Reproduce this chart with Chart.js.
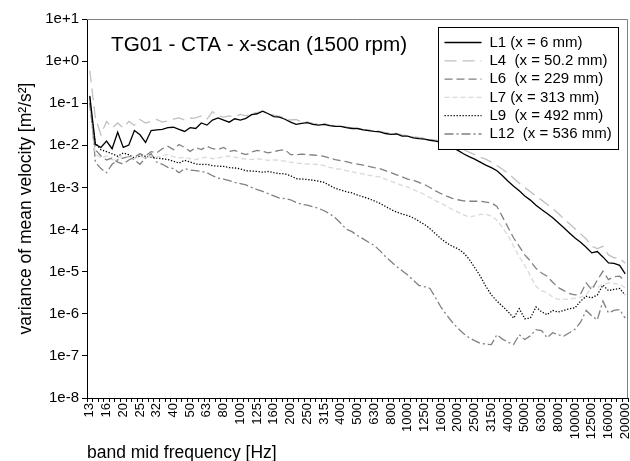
<!DOCTYPE html>
<html>
<head>
<meta charset="utf-8">
<script src="https://cdn.jsdelivr.net/npm/chart.js@4/dist/chart.umd.min.js"></script>
<style>
  html, body { margin: 0; padding: 0; background: #fff; }
</style>
</head>
<body>
<canvas id="c" width="630" height="461"></canvas>
<script>
// ============================================================
// TG01 - CTA - x-scan: variance of mean velocity per band
// ============================================================

// labelled band mid frequencies; two unlabelled sub-bands sit between each pair
const bandLabels = ["13","16","20","25","32","40","50","63","80","100","125","160","200","250",
  "315","400","500","630","800","1000","1250","1600","2000","2500","3150","4000","5000",
  "6300","8000","10000","12500","16000","20000"];
const subBands = 3;

const yTickValues = [1e-8, 1e-7, 1e-6, 1e-5, 1e-4, 1e-3, 1e-2, 1e-1, 1e0, 1e1];
const yTickLabels = ["1e-8","1e-7","1e-6","1e-5","1e-4","1e-3","1e-2","1e-1","1e+0","1e+1"];

const L1 = [1.5e-1,1.05e-2,8.9e-3,1.26e-2,8.3e-3,2.04e-2,8.9e-3,1.02e-2,2.24e-2,1.78e-2,
  1.17e-2,2.24e-2,2.34e-2,2.4e-2,2.63e-2,2.69e-2,2.4e-2,2.14e-2,2.63e-2,2.51e-2,
  3.39e-2,3.02e-2,3.98e-2,4.47e-2,3.98e-2,3.55e-2,4.27e-2,3.98e-2,4.37e-2,5.37e-2,
  5.62e-2,6.46e-2,5.62e-2,4.79e-2,4.68e-2,4.17e-2,3.55e-2,3.16e-2,3.31e-2,3.47e-2,
  3.16e-2,3.02e-2,3.16e-2,2.95e-2,2.82e-2,2.82e-2,2.63e-2,2.51e-2,2.51e-2,2.34e-2,
  2.24e-2,2.14e-2,2.09e-2,1.91e-2,1.82e-2,1.86e-2,1.66e-2,1.66e-2,1.51e-2,1.45e-2,
  1.41e-2,1.32e-2,1.26e-2,1.17e-2,1.05e-2,8.9e-3,7.6e-3,6.3e-3,5.4e-3,4.7e-3,
  4.0e-3,3.4e-3,2.95e-3,2.5e-3,1.9e-3,1.41e-3,1.07e-3,8.3e-4,6.3e-4,5.0e-4,
  3.8e-4,3.0e-4,2.4e-4,1.9e-4,1.45e-4,1.1e-4,8.3e-5,6.3e-5,5.0e-5,3.8e-5,
  2.8e-5,3.0e-5,2.24e-5,1.62e-5,1.58e-5,1.41e-5,8.9e-6];

const L4 = [6.0e-1,4.5e-2,1.78e-2,3.7e-2,2.6e-2,3.4e-2,2.6e-2,3.7e-2,3.0e-2,4.1e-2,
  3.4e-2,3.7e-2,4.1e-2,3.55e-2,3.8e-2,4.2e-2,4.5e-2,4.0e-2,4.4e-2,4.5e-2,
  5.0e-2,4.2e-2,6.3e-2,5.0e-2,4.7e-2,5.0e-2,4.8e-2,5.4e-2,5.0e-2,5.75e-2,
  6.0e-2,6.5e-2,5.6e-2,5.2e-2,4.9e-2,4.4e-2,4.0e-2,4.1e-2,3.55e-2,3.6e-2,
  3.3e-2,3.16e-2,3.3e-2,3.0e-2,2.95e-2,2.8e-2,2.75e-2,2.6e-2,2.5e-2,2.4e-2,
  2.34e-2,2.24e-2,2.14e-2,2.0e-2,1.95e-2,1.9e-2,1.78e-2,1.7e-2,1.58e-2,1.55e-2,
  1.48e-2,1.38e-2,1.32e-2,1.26e-2,1.15e-2,1.02e-2,9.1e-3,7.9e-3,6.9e-3,6.0e-3,
  5.25e-3,4.7e-3,4.0e-3,3.3e-3,2.7e-3,2.14e-3,1.66e-3,1.26e-3,1.0e-3,7.9e-4,
  6.3e-4,5.0e-4,4.0e-4,3.16e-4,2.4e-4,1.82e-4,1.38e-4,1.05e-4,7.9e-5,6.0e-5,
  4.0e-5,3.55e-5,4.0e-5,2.5e-5,2.14e-5,2.1e-5,1.58e-5];

const L6 = [1.0e-1,7.9e-3,5.6e-3,4.5e-3,5.0e-3,4.0e-3,3.55e-3,4.5e-3,5.25e-3,6.3e-3,
  5.6e-3,7.1e-3,6.6e-3,8.3e-3,9.5e-3,7.9e-3,1.05e-2,8.9e-3,7.2e-3,8.9e-3,
  7.9e-3,9.5e-3,8.3e-3,7.9e-3,8.9e-3,7.2e-3,7.6e-3,6.6e-3,6.0e-3,6.9e-3,
  7.6e-3,7.2e-3,6.6e-3,7.1e-3,7.6e-3,7.9e-3,6.0e-3,6.0e-3,6.2e-3,6.0e-3,
  5.9e-3,5.75e-3,5.5e-3,5.0e-3,4.6e-3,4.3e-3,4.1e-3,3.8e-3,3.6e-3,3.4e-3,
  3.16e-3,2.95e-3,2.8e-3,2.5e-3,2.24e-3,2.0e-3,1.78e-3,1.58e-3,1.48e-3,1.32e-3,
  1.17e-3,1.0e-3,8.3e-4,7.1e-4,6.2e-4,5.5e-4,5.1e-4,4.8e-4,4.7e-4,4.7e-4,
  4.7e-4,4.5e-4,4.3e-4,3.55e-4,2.0e-4,1.12e-4,6.3e-5,4.0e-5,2.5e-5,1.78e-5,
  1.2e-5,9.3e-6,7.8e-6,5.6e-6,4.2e-6,3.55e-6,3.0e-6,2.8e-6,2.95e-6,5.4e-6,
  3.7e-6,6.3e-6,1.02e-5,6.5e-6,7.6e-6,7.8e-6,5.9e-6];

const L7 = [7.9e-2,6.3e-3,5.0e-3,5.6e-3,4.5e-3,5.0e-3,5.6e-3,5.25e-3,4.8e-3,5.5e-3,
  5.0e-3,5.6e-3,5.25e-3,5.75e-3,6.0e-3,5.4e-3,5.0e-3,5.25e-3,4.8e-3,4.6e-3,
  5.0e-3,5.25e-3,4.8e-3,5.0e-3,5.4e-3,5.5e-3,5.25e-3,4.9e-3,4.7e-3,4.6e-3,
  4.8e-3,4.6e-3,4.4e-3,4.5e-3,4.4e-3,4.2e-3,4.0e-3,3.8e-3,3.7e-3,3.6e-3,
  3.55e-3,3.5e-3,3.3e-3,3.0e-3,2.8e-3,2.7e-3,2.5e-3,2.34e-3,2.2e-3,2.1e-3,
  1.95e-3,1.86e-3,1.78e-3,1.58e-3,1.41e-3,1.26e-3,1.12e-3,1.02e-3,8.9e-4,7.8e-4,
  6.8e-4,5.75e-4,4.8e-4,4.2e-4,3.55e-4,3.0e-4,2.6e-4,2.24e-4,2.0e-4,2.1e-4,
  2.3e-4,2.3e-4,2.1e-4,1.66e-4,1.12e-4,7.1e-5,4.0e-5,2.24e-5,1.41e-5,7.9e-6,
  4.5e-6,3.55e-6,3.16e-6,2.5e-6,2.2e-6,2.2e-6,2.24e-6,2.34e-6,2.5e-6,2.8e-6,
  4.4e-6,4.2e-6,5.0e-6,5.4e-6,5.25e-6,5.0e-6,4.1e-6];

const L9 = [1.0e-1,1.12e-2,7.9e-3,7.1e-3,6.3e-3,5.5e-3,6.6e-3,6.0e-3,5.0e-3,5.6e-3,
  5.5e-3,5.25e-3,5.0e-3,4.8e-3,4.6e-3,4.2e-3,3.8e-3,4.4e-3,4.0e-3,3.6e-3,
  3.5e-3,3.55e-3,3.3e-3,3.2e-3,3.16e-3,2.95e-3,2.9e-3,2.75e-3,2.5e-3,2.45e-3,
  2.4e-3,2.3e-3,2.4e-3,2.24e-3,2.14e-3,2.1e-3,1.9e-3,1.62e-3,1.58e-3,1.55e-3,
  1.48e-3,1.41e-3,1.32e-3,1.12e-3,9.5e-4,8.7e-4,7.9e-4,7.4e-4,6.6e-4,6.0e-4,
  5.4e-4,4.8e-4,4.2e-4,3.55e-4,3.0e-4,2.6e-4,2.34e-4,2.14e-4,1.9e-4,1.58e-4,
  1.32e-4,1.05e-4,7.9e-5,6.0e-5,4.8e-5,4.0e-5,3.5e-5,2.8e-5,2.0e-5,1.26e-5,
  7.9e-6,4.5e-6,2.8e-6,2.0e-6,1.51e-6,1.12e-6,7.9e-7,1.32e-6,7.6e-7,7.9e-7,
  1.45e-6,1.12e-6,9.5e-7,1.2e-6,1.1e-6,1.2e-6,1.32e-6,1.38e-6,2.0e-6,2.6e-6,
  2.4e-6,2.8e-6,4.8e-6,3.55e-6,3.8e-6,4.0e-6,2.8e-6];

const L12 = [1.41e-1,4.0e-3,2.8e-3,2.24e-3,3.55e-3,4.5e-3,5.0e-3,5.5e-3,4.5e-3,3.55e-3,
  5.0e-3,6.3e-3,4.0e-3,3.55e-3,3.0e-3,2.8e-3,2.24e-3,2.8e-3,2.6e-3,2.5e-3,
  2.4e-3,2.24e-3,1.9e-3,1.66e-3,1.58e-3,1.45e-3,1.32e-3,1.23e-3,1.15e-3,1.0e-3,
  8.9e-4,8.1e-4,7.1e-4,6.3e-4,5.6e-4,5.4e-4,5.1e-4,4.4e-4,4.0e-4,3.8e-4,
  3.5e-4,3.2e-4,2.8e-4,2.4e-4,1.9e-4,1.41e-4,1.02e-4,8.9e-5,7.2e-5,6.0e-5,
  5.0e-5,4.2e-5,3.16e-5,2.3e-5,1.74e-5,1.32e-5,1.05e-5,8.3e-6,6.3e-6,4.7e-6,
  4.4e-6,4.0e-6,2.4e-6,1.41e-6,9.3e-7,6.3e-7,4.5e-7,3.4e-7,2.7e-7,2.3e-7,
  2.0e-7,1.9e-7,1.86e-7,3.2e-7,2.5e-7,2.1e-7,1.86e-7,3.2e-7,2.45e-7,3.0e-7,
  4.2e-7,4.0e-7,2.7e-7,3.55e-7,3.16e-7,2.95e-7,3.55e-7,4.3e-7,6.3e-7,1.2e-6,
  8.9e-7,7.2e-7,2.0e-6,1.05e-6,1.2e-6,1.26e-6,7.9e-7];

// one category per sub-band, label only on every third
const categories = [];
bandLabels.forEach((b, k) => {
  categories.push(b);
  if (k < bandLabels.length - 1) for (let s = 1; s < subBands; s++) categories.push("");
});

const FONT = "'Liberation Sans', Arial, sans-serif";
Chart.defaults.font.family = FONT;
Chart.defaults.color = "#000";

const series = [
  { label: "L1 (x = 6 mm)",     data: L1,  color: "#000000", dash: [] },
  { label: "L4  (x = 50.2 mm)", data: L4,  color: "#c0c0c0", dash: [12, 6] },
  { label: "L6  (x = 229 mm)",  data: L6,  color: "#808080", dash: [8, 4] },
  { label: "L7 (x = 313 mm)",   data: L7,  color: "#d9d9d9", dash: [5, 3] },
  { label: "L9  (x = 492 mm)",  data: L9,  color: "#000000", dash: [1.3, 1.7] },
  { label: "L12  (x = 536 mm)", data: L12, color: "#808080", dash: [9, 3, 2, 3] },
];

// title inside the plot, frame on top/right, boxed legend top-right
const decorations = {
  id: "decorations",
  afterDatasetsDraw(chart) {
    const { ctx, chartArea: a } = chart;
    ctx.save();
    ctx.strokeStyle = "#808080";
    ctx.lineWidth = 1;
    ctx.beginPath();
    ctx.moveTo(a.left, a.top + 0.5);
    ctx.lineTo(a.right - 0.5, a.top + 0.5);
    ctx.lineTo(a.right - 0.5, a.bottom);
    ctx.stroke();

    ctx.fillStyle = "#000";
    ctx.font = "20.7px " + FONT;
    ctx.textBaseline = "middle";
    ctx.textAlign = "left";
    ctx.fillText("TG01 - CTA - x-scan (1500 rpm)", a.left + 24, a.top + 26);

    // legend box
    const bx = a.right - 189.5, by = a.top + 8.5, bw = 180, bh = 122;
    ctx.fillStyle = "#fff";
    ctx.fillRect(bx, by, bw, bh);
    ctx.strokeStyle = "#000";
    ctx.strokeRect(bx, by, bw, bh);
    ctx.font = "15px " + FONT;
    series.forEach((s, k) => {
      const y = by + 15 + k * 18.3;
      ctx.strokeStyle = s.color;
      ctx.lineWidth = 1.3;
      ctx.setLineDash(s.dash);
      ctx.beginPath();
      ctx.moveTo(bx + 6, y);
      ctx.lineTo(bx + 43, y);
      ctx.stroke();
      ctx.setLineDash([]);
      ctx.fillStyle = "#000";
      ctx.fillText(s.label, bx + 51, y);
    });
    ctx.restore();
  }
};

new Chart(document.getElementById("c"), {
  type: "line",
  data: {
    labels: categories,
    datasets: series.map(s => ({
      label: s.label,
      data: s.data,
      borderColor: s.color,
      borderDash: s.dash,
      borderWidth: 1.3,
      pointRadius: 0,
      tension: 0,
      fill: false,
    }))
  },
  options: {
    responsive: false,
    animation: false,
    devicePixelRatio: 1,
    layout: { padding: { top: 19, right: 2, left: 0, bottom: 0 } },
    plugins: { legend: { display: false }, tooltip: { enabled: false } },
    scales: {
      x: {
        type: "category",
        offset: true,
        grid: { drawOnChartArea: false, drawTicks: true, tickLength: 4, offset: true, color: "#000" },
        border: { color: "#000", width: 1 },
        ticks: { autoSkip: false, minRotation: 90, maxRotation: 90, padding: 1, font: { size: 13 } },
        title: { display: true, text: "band mid frequency [Hz]", align: "start",
                 font: { size: 17.5 }, padding: { top: 0, bottom: -3 } },
        afterFit: s => { s.height = 63; s.paddingLeft = 0; s.paddingRight = 0; }
      },
      y: {
        type: "logarithmic",
        min: 1e-8, max: 10,
        afterBuildTicks: s => { s.ticks = yTickValues.map(v => ({ value: v })); },
        grid: { drawOnChartArea: false, drawTicks: true, tickLength: 5, color: "#000" },
        border: { color: "#000", width: 1 },
        ticks: {
          padding: 3, font: { size: 15 },
          callback: v => yTickLabels[yTickValues.findIndex(t => Math.abs(Math.log10(t) - Math.log10(v)) < 1e-6)]
        },
        title: { display: true, text: "variance of mean velocity [m²/s²]",
                 font: { size: 17.5 }, padding: { top: 16, bottom: 0 } },
        afterFit: s => { s.width = 87; s.paddingTop = 0; s.paddingBottom = 0; }
      }
    }
  },
  plugins: [decorations]
});
</script>
</body>
</html>
